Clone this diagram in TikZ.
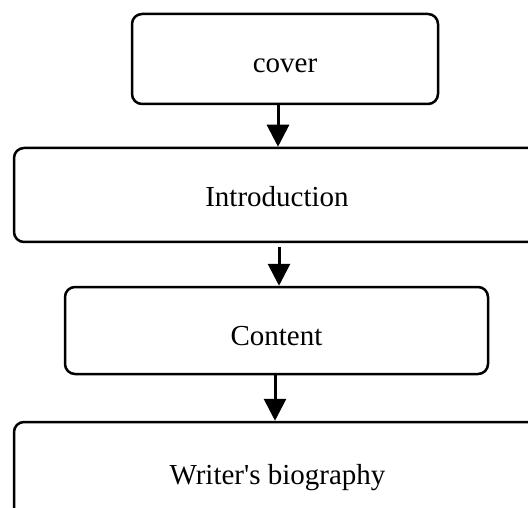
\documentclass[tikz,border=0pt]{standalone}
\usepackage{fontspec}
\setmainfont{Liberation Serif}
\newfontfamily\plainserif{Liberation Serif}
\usetikzlibrary{arrows.meta}
\begin{document}
\begin{tikzpicture}[x=1pt,y=-1pt,
  stagebox/.style={draw=black, line width=2.5pt, rounded corners=10pt,
    font=\plainserif\fontsize{29}{34}\selectfont, text height=28pt, text depth=0pt,
    inner sep=0pt, align=center},
  flowarrow/.style={line width=3pt, -{Triangle[width=22pt,length=22pt]}}]
\useasboundingbox (0,0) rectangle (528,508);
\clip (0,0) rectangle (528,508);
\node[stagebox, minimum width=306pt, minimum height=90pt] (cover) at (285,59) {cover};
\node[stagebox, minimum width=526pt, minimum height=94pt, text height=24pt] (intro) at (277,195) {Introduction};
\node[stagebox, minimum width=423pt, minimum height=87pt, text height=29pt] (content) at (276.5,330.5) {Content};
\node[stagebox, minimum width=527pt, minimum height=96pt] (writer) at (277.5,470) {Writer's biography};
\draw[flowarrow] ([xshift=-7pt]cover.south) -- ([xshift=-7pt]cover.south |- intro.north);
\draw[flowarrow, shorten <=4pt] ([xshift=2pt]intro.south) -- ([xshift=2pt]intro.south |- content.north);
\draw[flowarrow] ([xshift=-1.5pt]content.south) -- ([xshift=-1.5pt]content.south |- writer.north);
\end{tikzpicture}
\end{document}
